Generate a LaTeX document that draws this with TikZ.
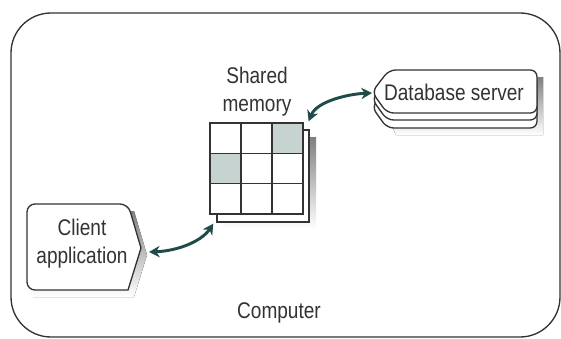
\documentclass[tikz,border=0pt]{standalone}
\usepackage{fontspec}
\setmainfont{Liberation Sans}[FakeStretch=0.84]
\usetikzlibrary{arrows.meta}

\definecolor{linkteal}{HTML}{1F4B48}
\definecolor{cellgray}{HTML}{C6D3D1}
\definecolor{edgegray}{HTML}{333333}
\definecolor{shade}{HTML}{F2F4F4}

\tikzset{
  labeltext/.style={font=\fontsize{17}{21}\selectfont, align=center, text=edgegray},
  outline/.style={draw=edgegray, line width=1pt, fill=white},
  link/.style={linkteal, line width=2.2pt,
    {Stealth[length=8pt,width=8.5pt]}-{Stealth[length=8pt,width=8.5pt]}},
}

\begin{document}
\begin{tikzpicture}[x=0.75pt,y=-0.75pt]
  \useasboundingbox (0,0) rectangle (561,339);
  % computer frame
  \draw[outline, rounded corners=30pt] (11,13) rectangle (560,337);
  \node[labeltext] (computer) at (279,313) {Computer};

  % shared memory
  \fill[shade] (223,137) rectangle (316,229);
  \draw[outline] (217,130) rectangle (309,222);
  \node[outline, minimum width=69.75pt, minimum height=68.25pt, inner sep=0pt]
    (mem) at (256.5,168.5) {};
  \fill[cellgray] (272,123) rectangle (303,153.3);
  \fill[cellgray] (210,153.3) rectangle (241,183.7);
  \foreach \i in {0,...,3} {
    \draw[edgegray, line width=1pt] (210+31*\i,123) -- ++(0,91);
    \draw[edgegray, line width=1pt] (210,123+30.33*\i) -- ++(93,0);
  }
  \node[labeltext] (memlabel) at (257,92) {Shared\\memory};

  % database server, three sheets
  \fill[shade] (380,100) -- (396,77) -- (543,77) -- (543,135) -- (396,135) -- cycle;
  \foreach \s in {15,7,0} {
    \begin{scope}[shift={(0,\s)}]
      \draw[outline, rounded corners=5pt]
        (372,92) -- (389,70) -- (537,70) -- (537,113) -- (387,113) -- cycle;
    \end{scope}
  }
  \coordinate (dbtip) at (372,92);
  \node[labeltext] (db) at (454,92) {Database server};

  % client application
  \fill[shade] (33,211) -- (134,211) -- (147,255) -- (134,297) -- (33,297) -- cycle;
  \draw[outline, rounded corners=6pt]
    (27,248) -- (27,204) -- (128,204) [sharp corners] -- (141,248) -- (128,290)
    [rounded corners=6pt] -- (27,290) -- cycle;
  \coordinate (clienttip) at (141,248);
  \node[labeltext] (client) at (82,244) {Client\\application};

  % links
  \draw[link] ([shift={(8,4)}]clienttip) .. controls +(28,-1) and +(-12,18) ..
    ([shift={(4,9)}]mem.south west);
  \draw[link] ([shift={(5,-1)}]mem.north east) .. controls +(8,-20) and +(-24,1) ..
    ([shift={(0,1)}]dbtip);
\end{tikzpicture}
\end{document}
